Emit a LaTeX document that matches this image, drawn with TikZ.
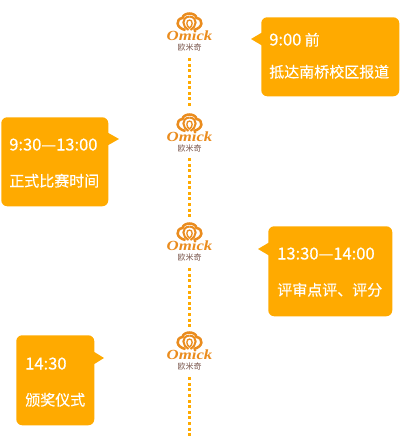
\documentclass[tikz,border=0pt]{standalone}
\usepackage{fontspec}
\setmainfont[RawFeature={embolden=0.35}]{Noto Sans CJK SC}
\newfontfamily\logocjk{Noto Sans CJK SC}
\newfontfamily\omickfont{Liberation Serif}
\usetikzlibrary{calc}
\definecolor{boxorange}{RGB}{255,170,0}
\definecolor{logoorange}{RGB}{234,140,30}
\definecolor{logobrown}{RGB}{120,85,75}
\newcommand{\timefont}{\fontsize{12.4pt}{13pt}\selectfont}
\tikzset{
  px/.style={x=0.75pt,y=-0.75pt},
  infobox/.style={fill=boxorange,rounded corners=4.5pt,inner sep=0pt,anchor=north west},
  infotext/.style={text=white,font=\fontsize{11.25pt}{13pt}\selectfont,anchor=base west,inner sep=0pt},
  tail/.style={fill=boxorange},
  dots/.style={draw=boxorange,line width=2.25pt,dash pattern=on 2.25pt off 1.95pt},
  logobox/.style={minimum width=46*0.75pt,minimum height=50*0.75pt,inner sep=0pt},
  crownline/.style={draw=logoorange,line width=1.5pt,fill=none},
  pics/omicklogo/.style={code={
    \draw[crownline,line width=1.9pt] (-4,-3) .. controls (-14,-5) and (-14,-14) .. (-7,-15)
      .. controls (-6,-21) and (6,-21) .. (7,-15)
      .. controls (14,-14) and (14,-5) .. (4,-3);
    \draw[crownline] (0,-16.5) .. controls (-9,-15.5) and (-7,-6) .. (-1,-3);
    \draw[crownline] (0,-16.5) .. controls (9,-15.5) and (7,-6) .. (1,-3);
    \draw[crownline,line width=1pt] (0,-13) .. controls (-3.5,-13) and (-3.5,-7) .. (0,-5)
      .. controls (3.5,-7) and (3.5,-13) .. (0,-13);
    \node[text=logoorange,inner sep=0pt,transform shape,xscale=1.2,font=\omickfont\bfseries\itshape\fontsize{10.5pt}{11pt}\selectfont] at (0,3) {Omick};
    \node[text=logobrown,inner sep=0pt,font=\logocjk\fontsize{6pt}{6.5pt}\selectfont] at (0,14) {欧米奇};
  }}
}
\begin{document}
\begin{tikzpicture}[px]
\useasboundingbox (0,0) rectangle (400,443);
% logos
\node[logobox] (logoA) at (189.5,33) {};
\node[logobox] (logoB) at (189.5,133) {};
\node[logobox] (logoC) at (189.5,243) {};
\node[logobox] (logoD) at (189.5,352) {};
\pic at (logoA) {omicklogo};
\pic at ($(logoB)+(0,1)$) {omicklogo};
\pic at (logoC) {omicklogo};
\pic at (logoD) {omicklogo};
\coordinate (lineend) at (189.5,437);
% dotted connectors
\draw[dots] (logoA.south) -- (logoB.north);
\draw[dots] (logoB.south) -- (logoC.north);
\draw[dots] (logoC.south) -- (logoD.north);
\draw[dots] (logoD.south) -- (lineend);
% boxes
\node[infobox,minimum width=138*0.75pt,minimum height=79*0.75pt] (boxA) at (261,17) {};
\node[infobox,minimum width=107*0.75pt,minimum height=89*0.75pt] (boxB) at (1,117) {};
\node[infobox,minimum width=124*0.75pt,minimum height=90*0.75pt] (boxC) at (268,226) {};
\node[infobox,minimum width=78*0.75pt,minimum height=90*0.75pt] (boxD) at (16,335) {};
% tails
\coordinate (tipA) at (251,39);
\coordinate (tipB) at (119,139);
\coordinate (tipC) at (258,249);
\coordinate (tipD) at (104,358);
\fill[tail] (tipA) -- ($(boxA.west|-tipA)+(1,-6.5)$) -- ($(boxA.west|-tipA)+(1,6.5)$) -- cycle;
\fill[tail] (tipB) -- ($(boxB.east|-tipB)+(-1,-6.5)$) -- ($(boxB.east|-tipB)+(-1,6.5)$) -- cycle;
\fill[tail] (tipC) -- ($(boxC.west|-tipC)+(1,-6.5)$) -- ($(boxC.west|-tipC)+(1,6.5)$) -- cycle;
\fill[tail] (tipD) -- ($(boxD.east|-tipD)+(-1,-6.5)$) -- ($(boxD.east|-tipD)+(-1,6.5)$) -- cycle;
% text
\node[infotext] (tA1) at (269,45.5) {{\timefont 9:00} 前};
\node[infotext] (tA2) at (269,77.5) {抵达南桥校区报道};
\node[infotext] (tB1) at (9,150.5) {\timefont 9:30—13:00};
\node[infotext] (tB2) at (9,186.5) {正式比赛时间};
\node[infotext] (tC1) at (277,259.5) {\timefont 13:30—14:00};
\node[infotext] (tC2) at (277,295.5) {评审点评、评分};
\node[infotext] (tD1) at (25,369.5) {\timefont 14:30};
\node[infotext] (tD2) at (25,405.5) {颁奖仪式};
\end{tikzpicture}
\end{document}
